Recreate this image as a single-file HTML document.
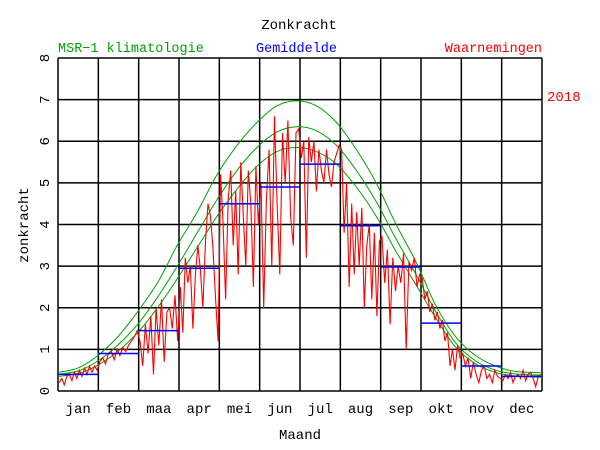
<!DOCTYPE html>
<html><head><meta charset="utf-8"><style>
body{margin:0;background:#fff;}
svg{display:block;font-family:"Liberation Mono",monospace;}
</style></head><body>
<svg id="chart" width="600" height="450">
<text x="299" y="29" text-anchor="middle" font-size="14">Zonkracht</text>
<text x="58" y="52" fill="#00a000" font-size="13.5">MSR−1 klimatologie</text>
<text x="256" y="52" fill="#0000ff" font-size="13.5">Gemiddelde</text>
<text x="542" y="52" fill="#ff0000" font-size="13.5" text-anchor="end">Waarnemingen</text>
<text x="547" y="101" fill="#ff0000" font-size="14">2018</text>
<text transform="translate(28,225) rotate(-90)" text-anchor="middle" font-size="14">zonkracht</text>
<text x="300" y="439" text-anchor="middle" font-size="14">Maand</text>
<g id="grid"></g><g id="green"></g><g id="red"></g><g id="blue"></g><g id="labels"></g>
</svg>
<script>
const months=["jan","feb","maa","apr","mei","jun","jul","aug","sep","okt","nov","dec"];
const yTicks=[0,1,2,3,4,5,6,7,8];
const monthMeans=[0.4,0.9,1.45,2.95,4.5,4.9,5.45,3.97,2.98,1.63,0.6,0.35];
const climDays=[0,15,30,45,60,75,90,105,120,135,150,165,180,195,210,225,240,255,270,285,300,315,330,345,365];
const climHigh=[0.45,0.55,0.85,1.3,1.9,2.6,3.5,4.3,5.2,5.9,6.45,6.85,6.97,6.85,6.45,5.8,5.0,4.0,3.1,2.05,1.3,0.85,0.6,0.47,0.44];
const climMid=[0.4,0.48,0.72,1.1,1.6,2.25,3.0,3.8,4.6,5.3,5.85,6.22,6.35,6.25,5.9,5.3,4.55,3.65,2.8,1.9,1.15,0.72,0.5,0.41,0.38];
const climLow=[0.35,0.42,0.62,0.95,1.4,2.0,2.7,3.45,4.2,4.85,5.4,5.75,5.85,5.75,5.45,4.9,4.2,3.35,2.55,1.75,1.05,0.65,0.45,0.36,0.33];
const obsJan=[0.2,0.3,0.15,0.35,0.4,0.25,0.45,0.3,0.5,0.35,0.55,0.4,0.6,0.45,0.6,0.5];
const obsFeb=[0.7,0.8,0.65,0.9,0.95,0.75,1.0,0.85,1.05,0.95,1.1,1.2,1.3,1.45];
const obsMar=[1.2,0.6,1.6,0.9,1.8,0.4,2.0,1.1,2.2,0.7,1.9,2.0,1.5,2.3,1.2];
const obsApr=[2.5,1.4,3.2,2.6,3.0,1.5,2.8,3.5,2.9,2.0,3.6,4.5,4.2,3.4,2.2,1.2];
const obsMei=[5.2,4.0,2.2,4.6,5.3,3.5,4.8,2.8,5.5,4.2,3.0,5.3,4.5,2.5,5.4,4.0];
const obsJun=[5.0,2.0,4.6,5.8,3.0,6.6,4.5,2.8,6.2,5.0,6.5,4.2,3.5,6.2,6.3];
const obsJul=[5.6,6.0,3.2,6.1,5.5,6.0,4.8,5.8,5.3,5.0,5.8,5.2,4.9,5.5,5.7,5.9];
const obsAug=[5.8,3.8,5.0,2.5,4.5,2.8,4.3,3.0,4.4,2.0,3.5,4.0,2.2,3.8,1.8,3.6];
const obsSep=[3.7,2.6,3.4,1.6,3.2,2.4,3.0,2.6,3.3,1.0,3.1,2.9,3.2,2.5,2.8];
const obsOkt=[2.7,2.2,2.4,1.9,2.1,1.7,1.9,1.5,1.7,1.2,1.4,0.6,1.0,0.5,1.1,0.8];
const obsNov=[0.9,0.6,0.8,0.3,0.7,0.4,0.2,0.5,0.6,0.3,0.4,0.2,0.5,0.35,0.3];
const obsDec=[0.25,0.4,0.3,0.45,0.2,0.35,0.4,0.3,0.5,0.25,0.4,0.45,0.3,0.1,0.35,0.4];
const obsByMonth=[obsJan,obsFeb,obsMar,obsApr,obsMei,obsJun,obsJul,obsAug,obsSep,obsOkt,obsNov,obsDec];

const L=58,R=542,T=58,B=391;
const xDay=d=>L+(R-L)*d/365;
const xMonth=m=>L+(R-L)*m/12;
const yV=v=>B-(B-T)*v/8;
const NS="http://www.w3.org/2000/svg";
function mk(tag,parent,attrs){const e=document.createElementNS(NS,tag);for(const k in attrs)e.setAttribute(k,attrs[k]);parent.appendChild(e);return e;}
const grid=document.getElementById('grid'),labels=document.getElementById('labels');
yTicks.forEach(t=>{
  const l=mk('line',grid,{x1:L,x2:R,y1:yV(t),y2:yV(t),stroke:'#000','stroke-width':1.5});
  
  
  const tx=mk('text',labels,{transform:`translate(49,${yV(t)}) rotate(-90)`,'text-anchor':'middle','font-size':14});
  tx.textContent=t;
  
  
});
for(let m=0;m<=12;m++){
  const l=mk('line',grid,{x1:xMonth(m),x2:xMonth(m),y1:T,y2:B,stroke:'#000','stroke-width':1.5});
  
  
}
months.forEach((n,m)=>{
  const tx=mk('text',labels,{x:(xMonth(m)+xMonth(m+1))/2,y:413,'text-anchor':'middle','font-size':14});
  tx.textContent=n;
  
  
});
function smoothPath(P){
  let d='M'+P[0][0].toFixed(1)+','+P[0][1].toFixed(1);
  for(let i=0;i<P.length-1;i++){
    const p0=P[Math.max(i-1,0)],p1=P[i],p2=P[i+1],p3=P[Math.min(i+2,P.length-1)];
    const c1=[p1[0]+(p2[0]-p0[0])/6,p1[1]+(p2[1]-p0[1])/6];
    const c2=[p2[0]-(p3[0]-p1[0])/6,p2[1]-(p3[1]-p1[1])/6];
    d+=` C${c1[0].toFixed(1)},${c1[1].toFixed(1)} ${c2[0].toFixed(1)},${c2[1].toFixed(1)} ${p2[0].toFixed(1)},${p2[1].toFixed(1)}`;
  }
  return d;
}
const green=document.getElementById('green');
[[climHigh,'clim-high'],[climMid,'clim-mid'],[climLow,'clim-low']].forEach(([arr,nm])=>{
  const P=arr.map((v,i)=>[xDay(climDays[i]),yV(v)]);
  const p=mk('path',green,{d:smoothPath(P),fill:'none',stroke:'#00a000','stroke-width':1});
  
  
});
const red=document.getElementById('red');
const pts=[];
obsByMonth.forEach((arr,m)=>{
  const d0=m*365/12,len=365/12;
  arr.forEach((v,i)=>{pts.push(xDay(d0+len*(i+0.5)/arr.length).toFixed(1)+','+yV(v).toFixed(1));});
});
const rp=mk('polyline',red,{points:pts.join(' '),fill:'none',stroke:'#ff0000','stroke-width':1.1});


const blue=document.getElementById('blue');
monthMeans.forEach((v,m)=>{
  const l=mk('line',blue,{x1:xMonth(m),x2:xMonth(m+1),y1:yV(v),y2:yV(v),stroke:'#0000ff','stroke-width':1.5});
  
  
});
</script>
</body></html>
